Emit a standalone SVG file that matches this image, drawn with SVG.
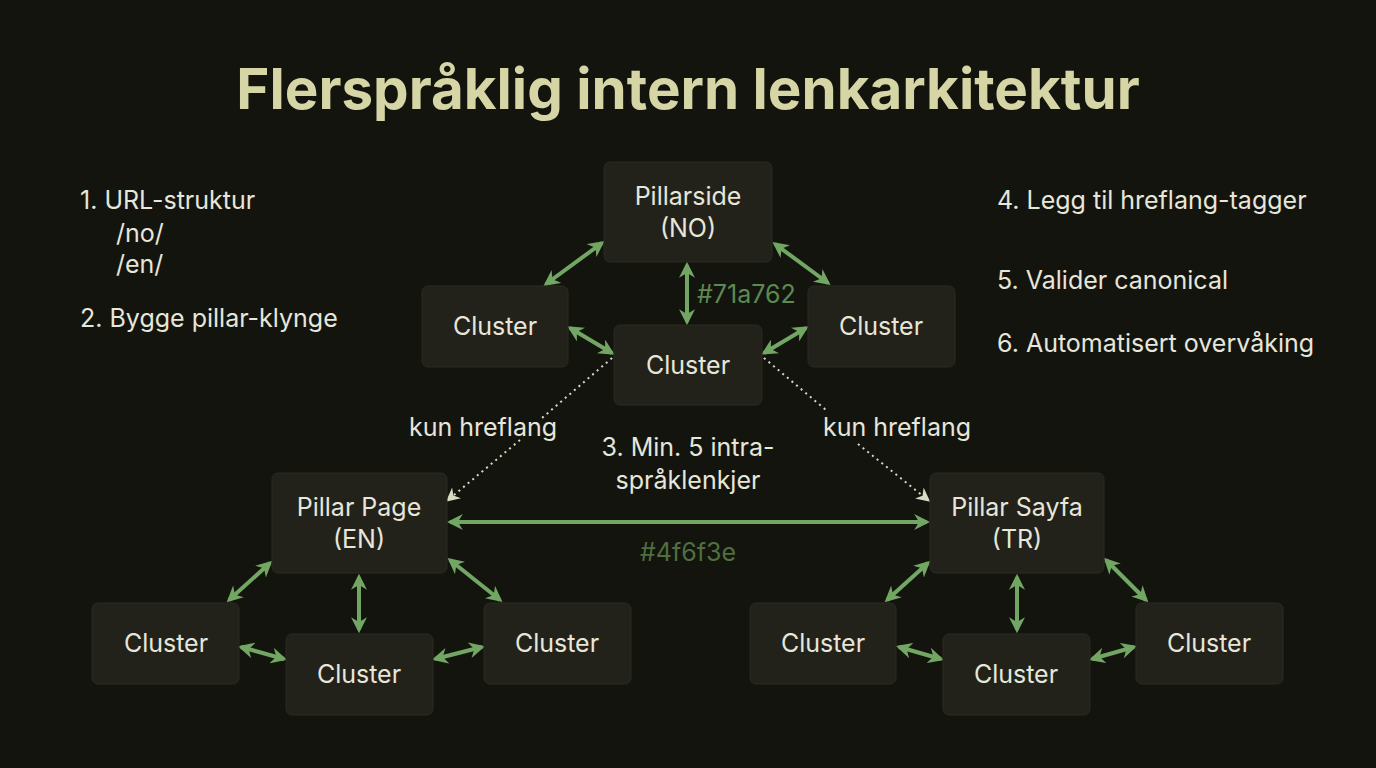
<svg xmlns="http://www.w3.org/2000/svg" width="1376" height="768" viewBox="0 0 1376 768">
<style>
text{font-family:Inter,"Liberation Sans",sans-serif;fill:#e6e6da}
.t{font-size:56.5px;font-weight:bold;fill:#d5d5a5}
.l{font-size:25px}
.n rect{fill:#22221b;stroke:#2a2a22}
.n text{font-size:25px;text-anchor:middle}
.a{stroke:#71a762;stroke-width:4;fill:none;marker-start:url(#h);marker-end:url(#h)}
.d{stroke:#d9d9c4;stroke-width:2;stroke-dasharray:2 4;fill:none;marker-end:url(#hd)}
</style>
<defs>
<marker id="h" viewBox="0 0 10 10" refX="8" refY="5" markerWidth="4" markerHeight="4" orient="auto-start-reverse"><path d="M0,0 L10,5 L0,10 L3,5z" fill="#71a762"/></marker>
<marker id="hd" viewBox="0 0 10 10" refX="8" refY="5" markerWidth="7" markerHeight="7" orient="auto"><path d="M0,0 L10,5 L0,10 L3,5z" fill="#d9d9c4"/></marker>
</defs>
<rect width="1376" height="768" fill="#14140f"/>
<text class="t" x="688" y="109" text-anchor="middle">Flerspråklig intern lenkarkitektur</text>
<text class="l" x="80" y="209">1. URL-struktur</text>
<text class="l" x="116" y="242">/no/</text>
<text class="l" x="116" y="273">/en/</text>
<text class="l" x="80" y="327">2. Bygge pillar-klynge</text>
<text class="l" x="997" y="209">4. Legg til hreflang-tagger</text>
<text class="l" x="997" y="289">5. Valider canonical</text>
<text class="l" x="997" y="352">6. Automatisert overvåking</text>
<text class="l" x="688" y="456" text-anchor="middle">3. Min. 5 intra-</text>
<text class="l" x="688" y="489" text-anchor="middle">språklenkjer</text>
<g id="connectors">
<path class="a" d="M546,284 L602,243"/>
<path class="a" d="M687,265 L687,322"/>
<path class="a" d="M775,244 L828,283"/>
<path class="a" d="M570,328 L612,353"/>
<path class="a" d="M806,328 L764,353"/>
<path class="d" d="M612,358 L542,418 M520,440 L448,500"/>
<path class="d" d="M764,358 L826,410 M858,444 L928,500"/>
<text class="l" x="483" y="436" text-anchor="middle">kun hreflang</text>
<text class="l" x="897" y="436" text-anchor="middle">kun hreflang</text>
<text x="697" y="303" style="font-size:25px;fill:#5d8a50">#71a762</text>
<path class="a" d="M450,522 L927,522"/>
<text x="688" y="561" text-anchor="middle" style="font-size:25px;fill:#4f6f3e">#4f6f3e</text>
<path class="a" d="M229,600 L270,563"/>
<path class="a" d="M359,577 L359,630"/>
<path class="a" d="M450,560 L500,600"/>
<path class="a" d="M241,647 L284,659"/>
<path class="a" d="M435,659 L482,647"/>
<path class="a" d="M887,600 L928,563"/>
<path class="a" d="M1017,577 L1017,630"/>
<path class="a" d="M1106,560 L1146,600"/>
<path class="a" d="M899,647 L941,659"/>
<path class="a" d="M1092,659 L1134,647"/>
</g>
<g id="pno" class="n"><rect x="604" y="162" width="168" height="100" rx="6"/><text x="688" y="205">Pillarside</text><text x="688" y="237">(NO)</text></g>
<g id="cnl" class="n"><rect x="422" y="286" width="146" height="81" rx="6"/><text x="495" y="335">Cluster</text></g>
<g id="cnc" class="n"><rect x="614" y="325" width="148" height="80" rx="6"/><text x="688" y="374">Cluster</text></g>
<g id="cnr" class="n"><rect x="808" y="286" width="147" height="81" rx="6"/><text x="881" y="335">Cluster</text></g>
<g id="pen" class="n"><rect x="272" y="473" width="175" height="100" rx="6"/><text x="359" y="516">Pillar Page</text><text x="359" y="548">(EN)</text></g>
<g id="ptr" class="n"><rect x="930" y="473" width="174" height="100" rx="6"/><text x="1017" y="516">Pillar Sayfa</text><text x="1017" y="548">(TR)</text></g>
<g id="ce1" class="n"><rect x="92" y="603" width="147" height="81" rx="6"/><text x="166" y="652">Cluster</text></g>
<g id="ce2" class="n"><rect x="286" y="634" width="147" height="81" rx="6"/><text x="359" y="683">Cluster</text></g>
<g id="ce3" class="n"><rect x="484" y="603" width="147" height="81" rx="6"/><text x="557" y="652">Cluster</text></g>
<g id="ct1" class="n"><rect x="750" y="603" width="146" height="81" rx="6"/><text x="823" y="652">Cluster</text></g>
<g id="ct2" class="n"><rect x="943" y="634" width="147" height="81" rx="6"/><text x="1016" y="683">Cluster</text></g>
<g id="ct3" class="n"><rect x="1136" y="603" width="147" height="81" rx="6"/><text x="1209" y="652">Cluster</text></g>
</svg>
